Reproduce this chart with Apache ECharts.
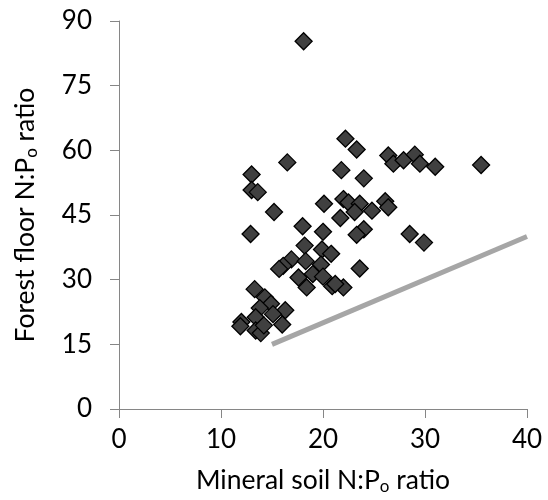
<!DOCTYPE html>
<html><head><meta charset="utf-8">
<script src="https://cdn.jsdelivr.net/npm/echarts@6/dist/echarts.min.js"></script>
<style>html,body{margin:0;padding:0;background:#fff}#c{width:548px;height:500px}</style>
</head><body><div id="c"></div>
<script>
const xTicks = [0, 10, 20, 30, 40];
const yTicks = [0, 15, 30, 45, 60, 75, 90];
const mineralNP = [18.1,16.5,13.0,13.0,13.6,15.2,20.1,22.2,23.3,26.4,26.9,27.9,29.0,29.5,31.0,35.5,21.8,24.0,22.0,22.5,23.6,24.8,26.1,26.4,23.1,21.7,18.0,20.0,24.0,23.3,12.9,28.5,29.9,18.2,19.9,20.8,16.9,16.1,15.7,18.3,19.8,23.6,17.6,19.0,20.0,18.4,20.9,22.0,21.2,13.3,14.3,14.9,13.8,16.3,13.4,15.1,12.0,11.9,13.4,13.9,14.2,16.0];
const forestNP  = [85.3,57.2,54.4,50.8,50.3,45.7,47.6,62.7,60.2,58.8,56.9,57.7,59.0,56.9,56.2,56.6,55.4,53.5,48.7,47.9,47.6,46.0,48.2,46.8,45.7,44.3,42.4,41.1,41.7,40.4,40.6,40.6,38.6,37.9,37.0,36.0,34.7,33.2,32.5,34.3,33.5,32.6,30.5,31.3,30.7,28.2,28.5,28.2,29.0,27.8,25.9,24.4,23.4,22.9,21.3,22.0,20.2,19.2,18.2,17.6,19.4,19.6];
const lineX = [15, 40];
const lineY = [15, 40];

const font = 'Lato, "Open Sans", sans-serif';
const chart = echarts.init(document.getElementById('c'));
const axisCol = '#868686';
const rich = {
  t: {fontSize: 26.5, fontFamily: font, color: '#000', lineHeight: 30},
  s: {fontSize: 17, fontFamily: font, color: '#000', lineHeight: 17, padding: [13, 0, 0, 0]}
};
chart.setOption({
  animation: false,
  grid: {left: 119, right: 21, top: 21, bottom: 87},
  xAxis: {
    type: 'value', min: xTicks[0], max: xTicks[xTicks.length-1], interval: 10,
    splitLine: {show: false},
    axisLine: {show: true, lineStyle: {color: axisCol, width: 1}},
    axisTick: {show: true, length: 9, lineStyle: {color: axisCol}},
    axisLabel: {color: '#000', fontSize: 26, fontFamily: font, margin: 18},
    name: '{t|Mineral soil N:P}{s|o}{t| ratio}',
    nameLocation: 'middle', nameGap: 56,
    nameTextStyle: {fontFamily: font, color: '#000', rich: rich}
  },
  yAxis: {
    type: 'value', min: yTicks[0], max: yTicks[yTicks.length-1], interval: 15,
    splitLine: {show: false},
    axisLine: {show: true, lineStyle: {color: axisCol, width: 1}},
    axisTick: {show: true, length: 9, lineStyle: {color: axisCol}},
    axisLabel: {color: '#000', fontSize: 26, fontFamily: font, margin: 27},
    name: '{t|Forest floor N:P}{s|o}{t| ratio}',
    nameLocation: 'middle', nameGap: 79, nameRotate: 90,
    nameTextStyle: {fontFamily: font, color: '#000', rich: rich}
  },
  series: [
    {
      type: 'line', data: lineX.map((x, i) => [x, lineY[i]]),
      symbol: 'none', lineStyle: {color: '#a6a6a6', width: 5}, z: 1
    },
    {
      type: 'scatter', data: mineralNP.map((x, i) => [x, forestNP[i]]),
      symbol: 'diamond', symbolSize: 17,
      itemStyle: {color: '#404040', borderColor: '#000', borderWidth: 1.3, opacity: 1},
      z: 2
    }
  ]
});
</script></body></html>
